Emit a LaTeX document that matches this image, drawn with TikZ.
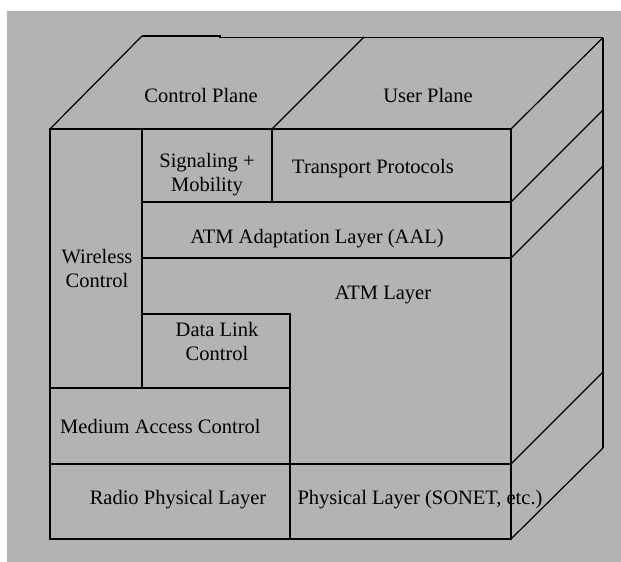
\documentclass[tikz,border=0pt]{standalone}
\usepackage{fontspec}
\setmainfont{Liberation Serif}
\definecolor{panel}{RGB}{179,179,179}
\begin{document}
\begin{tikzpicture}[x=1pt,y=-1pt,
  edge/.style={line width=1.7pt},
  slant/.style={line width=1.2pt},
  lbl/.style={font=\fontsize{20.5}{24}\selectfont, inner sep=0pt, align=center}]
\useasboundingbox (0,0) rectangle (621,562);
\fill[white] (0,0) rectangle (621,562);
\fill[panel] (7,11) rectangle (621,562);

% corners of the block
\coordinate (FTL) at (50,129);
\coordinate (FTR) at (511,129);
\coordinate (FBL) at (50,539);
\coordinate (FBR) at (511,539);
\coordinate (BTL) at (142,36);
\coordinate (BTR) at (603,37.5);
\coordinate (BBR) at (603,448);

% top face
\draw[slant] (FTL) -- (BTL);
\draw[edge] (BTL) -- (220,36) -- (220,37.5) -- (BTR);
\draw[slant] (272,129) -- (364,37);
\draw[slant] (FTR) -- (BTR);

% side face
\draw[edge] (BTR) -- (BBR);
\draw[slant] (511,202) -- (603,110);
\draw[slant] (511,258) -- (603,166);
\draw[slant] (511,464) -- (603,372);
\draw[slant] (FBR) -- (BBR);

% front face
\draw[edge] (FTL) rectangle (FBR);
\draw[edge] (142,129) -- (142,388);
\draw[edge] (50,388) -- (290,388);
\draw[edge] (272,129) -- (272,202);
\draw[edge] (142,202) -- (511,202);
\draw[edge] (142,258) -- (511,258);
\draw[edge] (142,314) -- (290,314) -- (290,539);
\draw[edge] (50,464) -- (511,464);

% labels
\node[lbl] (cp) at (201,95) {Control Plane};
\node[lbl] (up) at (428,95) {User Plane};
\node[lbl] (sig) at (207,175) {Signaling +\\Mobility};
\node[lbl] (tp) at (373,169) {Transport Protocols};
\node[lbl] (aal) at (317,239) {ATM Adaptation Layer (AAL)};
\node[lbl] (atm) at (383,295) {ATM Layer};
\node[lbl] (wc) at (97,268) {Wireless\\Control};
\node[lbl] (dlc) at (217,341) {Data Link\\Control};
\node[lbl, anchor=west] (mac) at (60,426) {Medium Access Control};
\node[lbl] (rpl) at (178,500) {Radio Physical Layer};
\node[lbl] (pl) at (420,500) {Physical Layer (SONET, etc.)};
\end{tikzpicture}
\end{document}
